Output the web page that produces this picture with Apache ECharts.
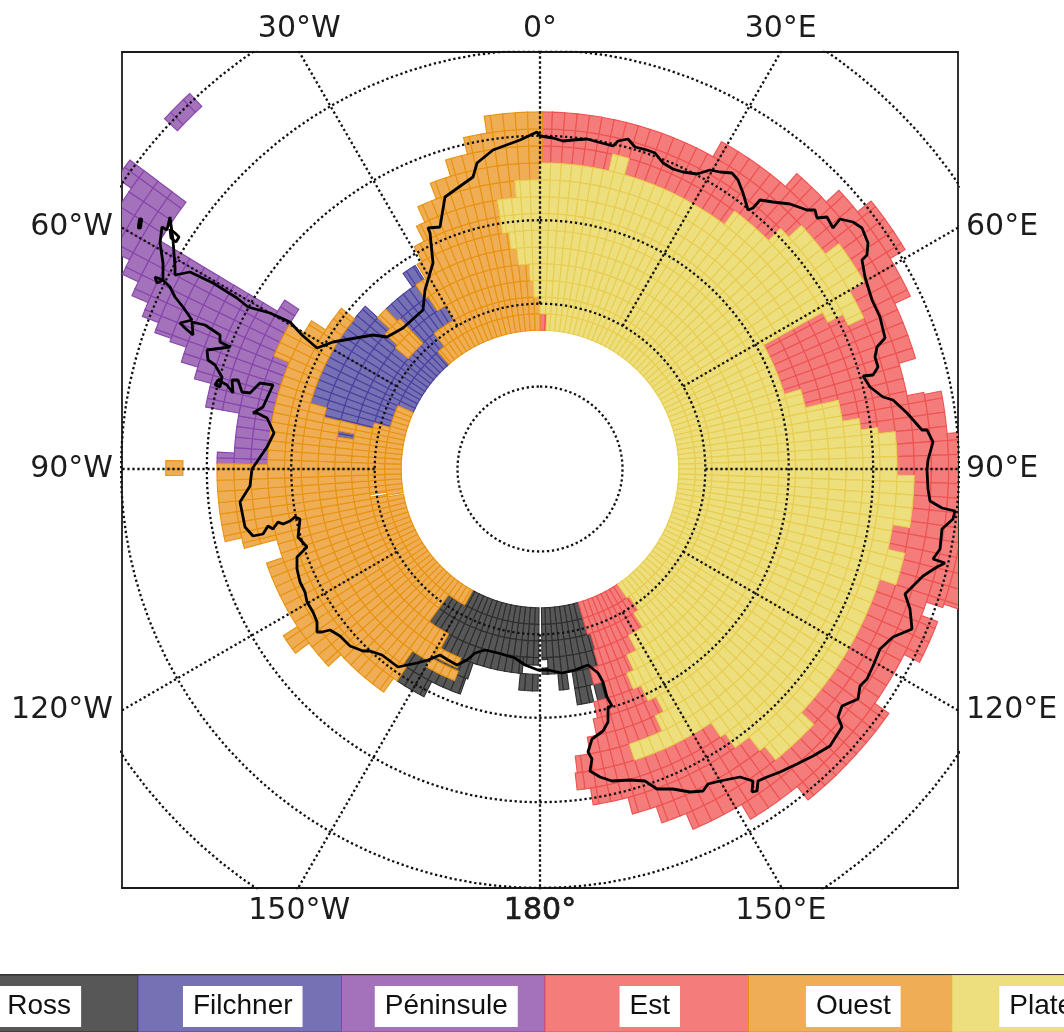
<!DOCTYPE html>
<html><head><meta charset="utf-8">
<style>html,body{margin:0;padding:0;background:#fff;overflow:hidden}#c{width:1064px;height:1032px}</style>
<script src="https://cdn.jsdelivr.net/npm/echarts@6/dist/echarts.min.js"></script>
</head><body><div id="c"></div>
<script>
// Each region: runs of grid cells as [row, first longitude, last longitude, optional row height] (deg east, 0-360)
const plateau = [[0,2.5,146],[1,0,145],[2,0,147],[3,0,152],[4,0,155],[5,0,157],[6,0,155],
 [7,0,61],[7,73,153],[8,0,61],[8,77,155],[9,0,61],[9,77,162],
 [10,13,16],[10,37,61],[10,81,146],[11,45,63],[11,83,145],[12,47,65],[12,84,142],
 [13,53,60],[13,91,99],[13,103,108],[13,133,141],
 [2,358,360],[3,357,360],[4,354,360],[5,352.5,360],[6,351,360],[7,351,360],[8,355,360]];
const est = [[0,0,2.5],[0,146,164],[1,145,164],[2,147,163],[3,152,163.5],[4,155,166],[5,157,163.5],[6,155,167],
 [7,61,73],[7,153,168],[8,61,77],[8,155,170],[9,61,77],[9,162,173],
 [10,0.4,13],[10,16,37],[10,61,81],[10,146,173.4],[11,0.4,45],[11,63,83],[11,145,171],
 [12,0.4,47],[12,65,84],[12,142,165],[13,29,53],[13,60,91],[13,99,103],[13,108,133],[13,141,161],
 [14,41,73.6],[14,78.7,157],[15,47,65],[15,79,149],[16,51,59],[16,85,109],[16,111,117],[16,125,141],[17,96,108.5]];
const ross = [[0,164,179.4],[0,180.4,209],[1,164,179.4],[1,180.4,216],[2,163,179.4],[2,180.4,216],
 [3,163.5,177.7],[3,177.7,179.4,0.12],[3.62,177.7,179.4,0.38],[3,180.4,185,0.45],[3,185,209],
 [4,166,171],[4,172.5,175],[4,180.5,185.5],[4,199,209],
 [5,163.5,166],[5,167,171],[5,199.5,215],[6,207,214]];
const ouest = [[0,209,259.6],[0,260.2,294],[0,319,360],[1,216,260.6],[1,261.4,285.5],[1,322,360],
 [2,216,283.6],[2,310,317],[2,330,358],[3,209,279],[3,280.7,283.6],[3,311,317],[3,327,357],
 [3.98,202.7,209.4,0.6],[4.76,202,210,0.6],
 [4,209.4,283.5],[4,313,316],[4,326,354],[5,215,286],[5,329,352.5],
 [6,214,309],[6,330.5,351],[7,215,303],[7,333,351],[8,227,251],[8,255,271],[8,293,300],[8,335,355],
 [9,233,237],[9,255,271],[9,339,360],[10,257,271],[10,343,360.4],[11,347,360.4],[12,351,360.4],[13,269,271.3]];
const filchner = [[0,294,319],[1,285.5,322],[2,283.6,310],[2,317,330],[3,279,280.7],[3,283.6,311],[3,317,327],
 [4,283.5,313],[4,316,326],[5,286,313],[5,325,328.5]];
const peninsule = [[8,271,293],[9,271,303.5],[10,271,273],[10,280.5,301],[11,280.5,301],[12,284.6,301],[13,286.6,301],
 [14,289,301],[15,289.5,301],[16,291,301],[17,293,301],[18,295,307],[19,297,307],[20,299,307],[21,304.5,307],[21,313,317]];

// Region names and colours, in colour bar order
const regionNames = ['Ross','Filchner','Péninsule','Est','Ouest','Plateau'];
const regionFill  = ['#575757','#7670B4','#A471BB','#F47C7A','#EFAE55','#EDDE7E'];
const regionEdge  = ['#2e2e2e','#4b409f','#8645ab','#EE5252','#E8930F','#E8CE50'];
const regionRuns  = [ross,filchner,peninsule,est,ouest,plateau];

// Tick labels
const topTicks    = [[-30,'30°W'],[0,'0°'],[30,'30°E']];
const bottomTicks = [[-30,'150°W'],[0,'180°'],[30,'150°E']];
const leftTicks   = [[30,'60°W'],[0,'90°W'],[-30,'120°W']];
const rightTicks  = [[30,'60°E'],[0,'90°E'],[-30,'120°E']];

// Graticule
const parallels = [5,10,15,20,25,30,35,40];   // colatitude
const meridians = [0,30,60,90,120,150,180,210,240,270,300,330];

// Coast in map units (east, north of the pole)
const coastline = [[0,333],[13,331],[23,328],[33,329],[47,330],[58,327],[73,323],[78,328],[88,330],[95,322],[107,319],[115,316],[123,306],[133,300],[143,297],[157,295],[170,299],[180,297],[192,296],[198,289],[203,276],[208,259],[213,261],[220,269],[233,267],[250,265],[267,259],[275,259],[277,251],[287,252],[293,241],[300,250],[313,247],[322,241],[328,226],[327,214],[322,209],[325,192],[332,169],[340,152],[345,131],[337,122],[335,112],[338,102],[333,94],[323,93],[330,82],[343,72],[353,69],[367,56],[382,39],[387,39],[393,27],[388,9],[387,-1],
[388,-20],[390,-32],[402,-39],[415,-42],[413,-50],[402,-60],[400,-80],[393,-90],[405,-94],[397,-98],[383,-107],[373,-117],[365,-125],[370,-140],[372,-160],[353,-168],[340,-180],[333,-197],[327,-210],[320,-217],[318,-230],[302,-237],[298,-248],[302,-258],[290,-277],[273,-287],[257,-295],[240,-303],[227,-308],[218,-312],[217,-322],[212,-323],[213,-312],[200,-308],[180,-312],[168,-315],[163,-322],[150,-323],[133,-320],[117,-320],[105,-312],[90,-311],[72,-312],[60,-308],[50,-302],[52,-290],[48,-283],[52,-270],[63,-262],[68,-253],[68,-238],[72,-237],[67,-228],[63,-213],[58,-204],
[48,-196],[35,-201],[22,-204],[8,-201],[-2,-201],[-15,-196],[-25,-189],[-42,-184],[-55,-181],[-65,-184],[-73,-191],[-83,-196],[-92,-191],[-100,-186],[-112,-191],[-123,-194],[-142,-198],[-150,-192],[-158,-186],[-170,-182],[-177,-182],[-190,-177],[-200,-167],[-210,-161],[-218,-163],[-223,-163],[-223,-153],[-227,-143],[-233,-133],[-235,-123],[-240,-113],[-243,-100],[-243,-88],[-233,-78],[-242,-68],[-240,-50],[-245,-48],[-250,-52],[-257,-55],[-262,-53],[-267,-60],[-272,-57],[-277,-65],[-287,-67],[-295,-58],[-298,-43],[-300,-33],[-290,-17],[-288,0],
[-273,22],[-266,36],[-273,51],[-283,56],[-287,56],[-277,62],[-267,84],[-280,86],[-290,76],[-298,77],[-302,89],[-308,89],[-307,76],[-313,84],[-322,89],[-325,84],[-320,82],[-318,92],[-325,104],[-332,109],[-333,119],[-310,122],[-320,127],[-320,134],[-335,144],[-348,147],[-347,134],[-355,141],[-360,146],[-348,149],[-357,162],[-365,172],[-370,182],[-377,189],[-385,192],[-383,186],[-377,189],[-377,206],[-380,226],[-378,242],[-373,239],[-370,252],[-367,229],[-365,202],[-365,194],[-350,197],[-327,186],[-303,171],[-292,162],[-270,156],[-250,147],[-238,134],[-223,121],[-207,127],[-167,134],[-153,132],[-137,141],[-117,159],[-115,179],[-107,206],[-110,236],[-112,241],[-100,242],[-95,272],[-67,292],[-63,306],[-47,319],[-20,329],[-3,337],[0,333]];
const islandA = [[-399.5,249],[-400,246],[-400.5,242]];
const islandB = [[-370,240],[-365,236],[-361,232],[-364,227],[-369,231],[-370,240]];

// Projection and grid geometry
const polarScale = 1890, firstColat = 8.4, rowStep = 1, lonStep = 2;
function project(lon, colat){
  const r = polarScale*Math.tan(colat*Math.PI/360), a = lon*Math.PI/180;
  return [r*Math.sin(a), r*Math.cos(a)];
}
const cells = [];
regionRuns.forEach((runs,k)=>runs.forEach(([row,a,b,h])=>{
  const height = h===undefined?1:h;
  let s = a;
  while (s < b-1e-6){
    const e = Math.min(b,(Math.floor(s/lonStep+1e-6)+1)*lonStep);
    cells.push([s,e,firstColat+row*rowStep,firstColat+(row+height)*rowStep,k]);
    s = e;
  }
}));
const graticule = [];
parallels.forEach(c=>{const p=[];for(let l=0;l<=360;l+=3)p.push(project(l,c));graticule.push(p);});
meridians.forEach(l=>{const p=[];for(let c=10;c<=44;c+=2)p.push(project(l,c));graticule.push(p);});

const xMin=-418,xMax=418,yMin=-419,yMax=417;
const t30 = Math.tan(Math.PI/6);
const tickFont = {fontFamily:'DejaVu Sans',fontSize:30,color:'#1c1c1c'};
function tickVals(list,edge){return list.map(t=>t[0]===0?0:Math.sign(t[0])*Math.abs(edge)*t30);}
function nameOf(list,vals){return v=>{const i=vals.findIndex(q=>Math.abs(q-v)<1e-6);if(i<0)return '';const s=list[i][1];return s==='180°'?'{b|'+s+'}':s;};}
const axLine={show:true,onZero:false,lineStyle:{color:'#1a1a1a',width:1.8}};
function xAxisFor(list,edge,pos,margin){const vals=tickVals(list,edge);return {type:'value',gridIndex:0,position:pos,min:xMin,max:xMax,axisLine:axLine,axisTick:{show:false},splitLine:{show:false},
  axisLabel:Object.assign({customValues:vals,margin,formatter:nameOf(list,vals),rich:{b:Object.assign({},tickFont,{textBorderColor:'#1c1c1c',textBorderWidth:0.7})}},tickFont)};}
function yAxisFor(list,edge,pos,margin){const vals=tickVals(list,edge);return {type:'value',gridIndex:0,position:pos,min:yMin,max:yMax,axisLine:axLine,axisTick:{show:false},splitLine:{show:false},
  axisLabel:Object.assign({customValues:vals,margin,formatter:nameOf(list,vals)},tickFont)};}

// Colour bar: segment index axis; the strip is cropped by the page on both sides
const barMin = 0.322, barMax = 5.55;

const option={
  animation:false,
  grid:[{left:122,top:52,width:836,height:836,containLabel:false},{left:0,top:975,width:1064,height:57}],
  xAxis:[xAxisFor(bottomTicks,yMax,'bottom',8),xAxisFor(topTicks,yMax,'top',8),
    {type:'value',gridIndex:1,min:barMin,max:barMax,position:'top',axisLine:{show:true,onZero:false,lineStyle:{color:'#333',width:2}},axisTick:{show:false},axisLabel:{show:false},splitLine:{show:false}}],
  yAxis:[yAxisFor(leftTicks,xMax,'left',9),yAxisFor(rightTicks,xMax,'right',8),
    {type:'value',gridIndex:1,min:0,max:1,show:false}],
  series:[
    {type:'custom',xAxisIndex:0,yAxisIndex:0,clip:true,z:1,data:cells,silent:true,
     renderItem(p,api){
       const a=api.value(0),b=api.value(1),c0=api.value(2),c1=api.value(3),k=api.value(4);
       const m=(a+b)/2;
       const pts=[[a,c0],[m,c0],[b,c0],[b,c1],[m,c1],[a,c1]].map(q=>api.coord(project(q[0],q[1])));
       return {type:'polygon',shape:{points:pts},style:{fill:regionFill[k],stroke:regionEdge[k],lineWidth:1.1}};
     }},
    ...graticule.map(d=>({type:'line',xAxisIndex:0,yAxisIndex:0,clip:true,z:2,data:d,symbol:'none',silent:true,
      lineStyle:{color:'#111',width:2.3,type:[2.3,2.7]}})),
    {type:'line',xAxisIndex:0,yAxisIndex:0,clip:true,z:3,data:coastline,symbol:'none',silent:true,lineStyle:{color:'#000',width:2.8}},
    {type:'line',xAxisIndex:0,yAxisIndex:0,clip:true,z:3,data:islandA,symbol:'none',silent:true,lineStyle:{color:'#000',width:5,cap:'round'}},
    {type:'line',xAxisIndex:0,yAxisIndex:0,clip:true,z:3,data:islandB,symbol:'none',silent:true,lineStyle:{color:'#000',width:2.8}},
    {type:'custom',xAxisIndex:2,yAxisIndex:2,clip:true,z:1,silent:true,data:regionNames.map((n,i)=>[i,i+1,1]),
     renderItem(p,api){
       const i=api.value(0);
       const a=api.coord([i,1]),b=api.coord([i+1,0]);
       return {type:'group',children:[
         {type:'rect',shape:{x:a[0],y:a[1],width:b[0]-a[0],height:b[1]-a[1]},style:{fill:regionFill[i],stroke:regionEdge[i],lineWidth:1}},
         {type:'text',x:(a[0]+b[0])/2+3,y:(a[1]+b[1])/2+3,style:{text:regionNames[i],align:'center',verticalAlign:'middle',
           backgroundColor:'#fff',padding:[6,10,7,10],fontFamily:'Liberation Sans',fontSize:28,fill:'#111'}}
       ]};
     }}
  ]
};
echarts.init(document.getElementById('c'),null,{renderer:'canvas'}).setOption(option);
</script></body></html>
